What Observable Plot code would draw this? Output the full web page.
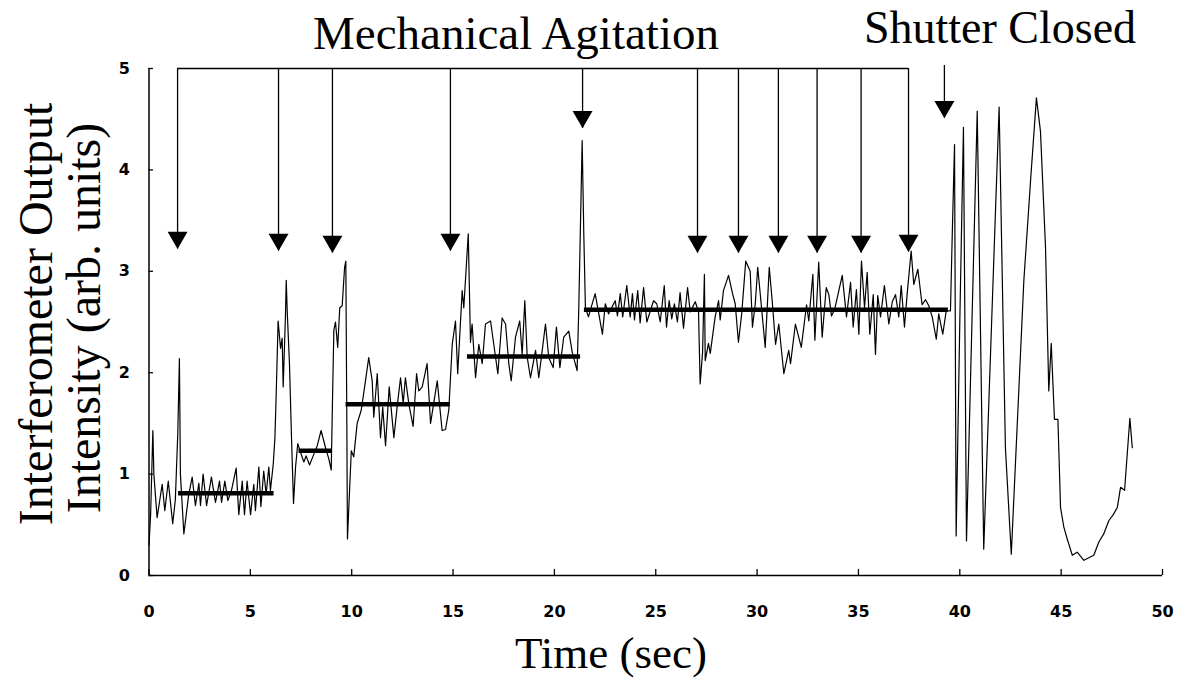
<!DOCTYPE html>
<html><head><meta charset="utf-8">
<script src="https://cdn.jsdelivr.net/npm/d3@7"></script>
<script src="https://cdn.jsdelivr.net/npm/@observablehq/plot@0.6"></script>
<style>body{margin:0;background:#fff;} #chart svg{display:block}</style>
</head><body><div id="chart"></div>
<script>
// ---- data ----
const time = [
0.00,0.08,0.19,0.24,0.40,0.65,0.78,0.95,1.17,1.30,1.42,1.50,1.55,1.72,1.96,2.13,2.29,2.46,2.54,2.67,
2.84,3.08,3.28,3.48,3.58,3.74,3.89,4.07,4.30,4.43,4.60,4.71,4.84,5.01,5.17,5.25,5.42,5.52,5.66,5.78,
5.91,5.99,6.13,6.21,6.27,6.37,6.49,6.57,6.62,6.73,6.77,6.82,6.93,7.03,7.13,7.23,7.34,7.50,7.64,7.75,
7.92,8.10,8.30,8.49,8.71,8.87,8.99,9.07,9.12,9.20,9.31,9.41,9.53,9.65,9.71,9.76,9.79,9.98,10.10,10.27,
10.47,10.68,10.84,11.01,11.09,11.26,11.42,11.53,11.67,11.85,12.08,12.24,12.41,12.54,12.65,12.82,13.03,13.20,13.31,13.48,
13.72,13.89,14.22,14.46,14.63,14.79,14.96,15.12,15.23,15.45,15.53,15.75,15.86,15.94,16.11,16.27,16.44,16.60,16.85,17.21,
17.42,17.59,17.75,17.87,18.08,18.29,18.41,18.54,18.66,18.82,19.07,19.23,19.40,19.56,19.72,19.94,20.10,20.27,20.46,20.71,
20.88,21.12,21.20,21.37,21.45,21.53,21.68,22.01,22.37,22.51,22.67,23.00,23.11,23.25,23.37,23.57,23.74,23.85,23.95,24.11,
24.23,24.40,24.56,24.89,25.05,25.22,25.42,25.53,25.66,25.79,25.92,26.07,26.20,26.37,26.57,26.70,26.95,27.11,27.19,27.31,
27.40,27.44,27.60,27.69,27.93,28.10,28.18,28.34,28.59,28.79,28.92,29.08,29.24,29.44,29.66,29.77,29.91,30.03,30.20,30.40,
30.60,30.74,30.91,31.07,31.32,31.56,31.65,31.89,32.18,32.44,32.55,32.75,32.85,33.04,33.21,33.41,33.54,33.67,33.82,34.20,
34.41,34.61,34.74,34.90,35.02,35.15,35.30,35.43,35.56,35.73,35.84,35.95,36.09,36.28,36.50,36.67,36.83,36.99,37.11,37.27,
37.40,37.60,37.73,37.93,38.14,38.31,38.47,38.64,38.84,38.96,39.16,39.33,39.54,39.62,39.74,39.82,40.00,40.18,40.33,40.86,
41.18,41.94,42.25,42.54,43.16,43.49,43.78,43.98,44.23,44.39,44.51,44.61,44.67,44.84,44.97,45.13,45.30,45.55,45.79,46.12,
46.61,46.86,47.10,47.35,47.57,47.77,47.93,48.13,48.39,48.51
];
const intensity = [
0.30,0.60,1.43,1.00,0.57,0.90,0.64,0.93,0.51,0.75,1.40,2.14,1.00,0.41,0.80,0.97,0.69,0.91,0.69,1.00,
0.69,0.97,0.72,0.93,0.72,0.93,0.74,0.84,1.06,0.60,0.93,0.60,0.93,0.60,0.90,0.64,1.07,0.68,1.03,0.80,
1.07,0.84,1.10,1.35,1.75,2.51,2.24,2.34,1.86,2.55,2.91,2.60,2.09,1.36,0.71,1.07,1.30,1.20,1.12,1.18,
1.09,1.18,1.28,1.43,1.26,1.15,1.04,1.92,2.42,2.50,2.25,2.64,2.66,3.04,3.10,1.50,0.36,1.23,1.17,1.50,
1.63,1.92,2.15,1.92,1.56,1.99,1.36,1.66,1.28,1.86,1.36,1.66,1.95,1.70,1.95,1.69,1.47,1.99,1.82,1.86,
2.09,1.50,1.92,1.43,1.44,1.63,2.28,2.51,1.99,2.81,2.64,3.37,2.30,2.48,1.95,2.28,2.09,2.48,2.51,1.99,
2.54,2.48,2.09,1.92,2.35,2.51,2.18,2.71,2.15,1.95,2.22,1.95,2.22,2.48,2.15,2.05,2.45,2.05,2.35,2.41,
2.20,2.02,2.61,4.29,3.37,2.64,2.55,2.78,2.38,2.68,2.58,2.71,2.56,2.78,2.55,2.86,2.55,2.78,2.52,2.81,
2.49,2.84,2.50,2.71,2.68,2.50,2.86,2.45,2.71,2.53,2.68,2.50,2.79,2.44,2.84,2.60,2.70,2.60,1.89,2.20,
2.97,2.12,2.29,2.19,2.55,2.71,2.52,2.81,2.96,2.78,2.68,2.30,2.58,3.10,3.00,2.45,2.68,3.04,2.68,2.25,
3.04,2.72,2.28,2.48,1.99,2.22,2.09,2.48,2.25,2.67,2.51,2.97,2.32,3.09,2.35,2.84,2.77,2.56,2.62,2.96,
2.55,2.89,2.45,2.82,2.38,3.10,2.64,2.99,2.38,2.77,2.18,2.76,2.55,2.86,2.48,2.70,2.77,2.55,2.86,2.45,
2.77,3.20,2.87,3.02,2.67,2.72,2.66,2.55,2.33,2.58,2.38,2.61,2.61,3.30,4.25,0.39,2.50,4.42,0.34,4.58,
0.26,4.62,1.26,0.21,2.91,3.89,4.71,4.38,3.23,1.82,2.29,1.82,1.54,1.54,0.67,0.48,0.36,0.20,0.23,0.15,
0.20,0.33,0.41,0.54,0.60,0.67,0.87,0.84,1.55,1.26
];
const meanStart = [1.46, 7.40, 9.72, 15.71, 21.48];
const meanEnd   = [6.17, 9.04, 14.86, 21.29, 39.44];
const meanLevel = [0.81, 1.23, 1.69, 2.16, 2.62];
const agitationTimes = [1.41, 6.39, 9.05, 14.87, 21.39, 27.06, 29.08, 31.05, 32.96, 35.13, 37.47];
const agitationTips  = [3.22, 3.20, 3.18, 3.20, 4.41, 3.18, 3.18, 3.18, 3.18, 3.18, 3.19];
const bracketLevel = 5;
const shutterTime = [39.24];
const shutterTop = 5.03;
const shutterTip = [4.51];
const xTicks = [0, 5, 10, 15, 20, 25, 30, 35, 40, 45, 50];
const yTicks = [0, 1, 2, 3, 4, 5];
const titleLeft = "Mechanical Agitation";
const titleRight = "Shutter Closed";
const xLabel = "Time (sec)";
const yLabel = ["Interferometer Output", "Intensity (arb. units)"];

const trace = time.map((t, i) => ({t, v: intensity[i]}));

const tickFont = {fontSize: 16, fontWeight: "bold", fontFamily: "DejaVu Sans", tickFormat: d => String(d)};

const chart = Plot.plot({
  width: 1183, height: 688,
  marginTop: 68, marginBottom: 113, marginLeft: 148.5, marginRight: 21,
  x: {domain: [0, 50]},
  y: {domain: [0, 5]},
  style: {background: "white", color: "black", overflow: "visible"},
  marks: [
    Plot.ruleX([0], {y1: 0, y2: 5, stroke: "black", strokeWidth: 1.5}),
    Plot.ruleY([0], {x1: 0, x2: 50, stroke: "black", strokeWidth: 1.5}),
    Plot.ruleX(xTicks, {x: d => d, y1: 0, y2: 0.06, stroke: "black", strokeWidth: 1.3}),
    Plot.ruleY(yTicks, {y: d => d, x1: 0, x2: 0.22, stroke: "black", strokeWidth: 1.3}),
    Plot.axisX(xTicks, {tickSize: 0, tickPadding: 30, label: null, ...tickFont}),
    Plot.axisY(yTicks, {tickSize: 0, tickPadding: 19, label: null, ...tickFont}),
    Plot.line(trace, {x: "t", y: "v", stroke: "black", strokeWidth: 1.2}),
    Plot.ruleY(meanLevel, {y: d => d, x1: (d, i) => meanStart[i], x2: (d, i) => meanEnd[i], stroke: "black", strokeWidth: 4.5}),
    Plot.ruleY([bracketLevel], {x1: agitationTimes[0], x2: agitationTimes[agitationTimes.length - 1], stroke: "black", strokeWidth: 1.5}),
    Plot.ruleX(agitationTimes, {x: d => d, y1: bracketLevel, y2: (d, i) => agitationTips[i], stroke: "black", strokeWidth: 1.3}),
    Plot.dot(agitationTimes, {x: d => d, y: (d, i) => agitationTips[i], symbol: "triangle", r: 7.4, rotate: 180, fill: "black", stroke: null, dy: -11.5}),
    Plot.ruleX(shutterTime, {x: d => d, y1: shutterTop, y2: (d, i) => shutterTip[i], stroke: "black", strokeWidth: 1.3}),
    Plot.dot(shutterTime, {x: d => d, y: (d, i) => shutterTip[i], symbol: "triangle", r: 7.4, rotate: 180, fill: "black", stroke: null, dy: -11.5})
  ]
});

const svg = d3.select(chart);
const serif = "'Liberation Serif', 'Times New Roman', serif";
function label(sel, txt, size) {
  return sel.append("text").text(txt)
    .attr("text-anchor", "middle")
    .style("font-family", serif).style("font-size", size + "px").style("fill", "black");
}
label(svg, titleLeft, 47).attr("x", 516).attr("y", 49);
label(svg, titleRight, 46).attr("x", 1000).attr("y", 43);
label(svg, xLabel, 45).attr("x", 611).attr("y", 668);
label(svg, yLabel[0], 48).attr("transform", "translate(52,314) rotate(-90)");
label(svg, yLabel[1], 48).attr("transform", "translate(100,318) rotate(-90)");

document.getElementById("chart").appendChild(chart);
</script>
</body></html>
